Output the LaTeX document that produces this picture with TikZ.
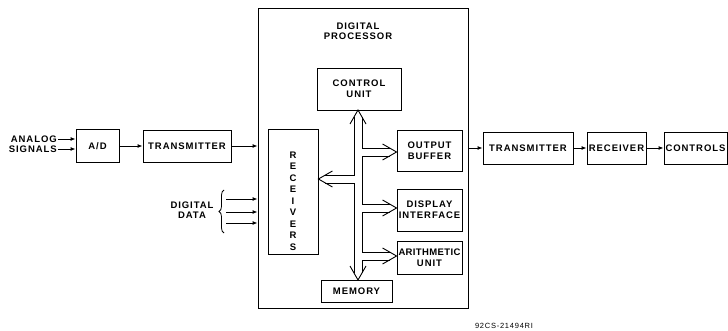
\documentclass[tikz,border=0pt]{standalone}
\usepackage{fontspec}
\setsansfont{Liberation Sans}[LetterSpace=10]
\usetikzlibrary{arrows.meta,decorations.pathreplacing}
\tikzset{
  unitbox/.style={draw,line width=0.9pt,align=center,inner sep=1pt,font=\sffamily\bfseries\fontsize{9.5}{11}\selectfont},
  lbl/.style={align=center,inner sep=0pt,font=\sffamily\bfseries\fontsize{9.5}{10.5}\selectfont},
  arrow/.style={-{Latex[length=5pt,width=4pt]},line width=0.9pt},
  busline/.style={line width=0.9pt,line join=miter},
  brc/.style={decorate,decoration={brace,amplitude=5pt},line width=0.8pt}
}
\begin{document}
\begin{tikzpicture}[x=1pt,y=-1pt]
  \useasboundingbox (0,0) rectangle (728,331);
  % processor frame
  \node[unitbox,minimum width=210,minimum height=300] (proc) at (363,158) {};
  \node[lbl] (ttl) at (358,31) {DIGITAL\\PROCESSOR};

  % left chain
  \node[lbl,anchor=east,align=right] (an) at (57,144) {ANALOG\\SIGNALS};
  \node[unitbox,minimum width=43,minimum height=33] (ad) at (97.5,146) {A/D};
  \node[unitbox,minimum width=88,minimum height=32] (tx) at (187,146) {TRANSMITTER};
  \node[lbl] (dd) at (192,210) {DIGITAL\\DATA};

  % inside the processor
  \node[unitbox,minimum width=84,minimum height=42] (cu) at (359,89) {CONTROL\\UNIT};
  \node[unitbox,minimum width=50,minimum height=125] (rc) at (293,191.5) {};
  \node[lbl,font=\sffamily\bfseries\fontsize{9.5}{11.5}\selectfont] (rctxt) at (293,201) {R\\E\\C\\E\\I\\V\\E\\R\\S};
  \node[unitbox,minimum width=65,minimum height=41] (ob) at (429.5,150.5) {OUTPUT\\BUFFER};
  \node[unitbox,minimum width=65,minimum height=42] (di) at (429.5,210) {DISPLAY\\INTERFACE};
  \node[unitbox,minimum width=65,minimum height=33] (au) at (429.5,257.5) {\addfontfeature{LetterSpace=4}ARITHMETIC\\UNIT};
  \node[unitbox,minimum width=71,minimum height=22] (mem) at (356.5,291) {MEMORY};

  % right chain
  \node[unitbox,minimum width=90,minimum height=32] (tx2) at (528,148) {TRANSMITTER};
  \node[unitbox,minimum width=59,minimum height=32] (rx) at (616.5,148) {RECEIVER};
  \node[unitbox,minimum width=63,minimum height=32] (ctl) at (695.5,148) {CONTROLS};

  \node[font=\sffamily\fontsize{7.5}{8}\selectfont,inner sep=0pt] (fig) at (504,326) {92CS-21494RI};

  % signal arrows
  \foreach \y [count=\i] in {139,149} {
    \coordinate (as\i) at (58,\y);
    \draw[arrow] (as\i) -- (as\i -| ad.west);
  }
  \draw[arrow] (ad) -- (tx);
  \draw[arrow] (tx.east) -- (tx.east -| proc.west);
  \draw[brc] (224,233) -- (224,190);
  \foreach \y [count=\i] in {199,212,223} {
    \coordinate (dd\i) at (226,\y);
    \draw[arrow] (dd\i) -- (dd\i -| proc.west);
  }
  \draw[arrow] (tx2.west -| proc.east) -- (tx2.west);
  \draw[arrow] (tx2) -- (rx);
  \draw[arrow] (rx) -- (ctl);

  % bus, drawn as an open double line
  \coordinate (bt) at (358,110);
  \coordinate (bb) at (358,280);
  \draw[busline] (bt) ++(-8,14) -- (bt) -- ++(8,14);
  \draw[busline] (bb) ++(-8,-14) -- (bb) -- ++(8,-14);
  \foreach \y/\n in {152/ob,208/di,256/au} {
    \draw[busline] (\n.west |- 0,\y) ++(-14,-8) -- (\n.west |- 0,\y) -- ++(-14,8);
  }
  \draw[busline] (rc.east |- 0,179) ++(14,-8) -- (rc.east |- 0,179) -- ++(14,8);
  % right wall with its three outlets
  \draw[busline] (362,117) -- (362,148) -- (390,148)
    (390,156) -- (362,156) -- (362,204) -- (390,204)
    (390,212) -- (362,212) -- (362,252) -- (390,252)
    (390,260) -- (362,260) -- (362,273);
  % left wall with the outlet to the receivers
  \draw[busline] (354,117) -- (354,175) -- (325,175)
    (325,183) -- (354,183) -- (354,273);
\end{tikzpicture}
\end{document}
